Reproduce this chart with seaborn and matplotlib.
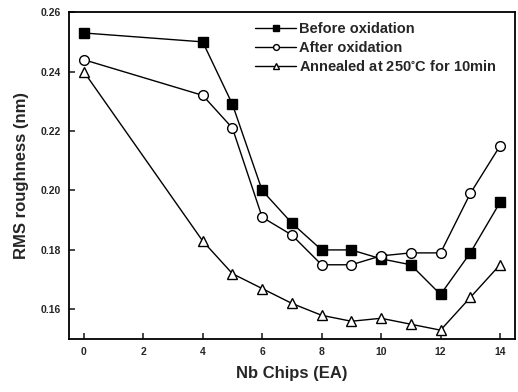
import matplotlib
matplotlib.use("Agg")
import matplotlib.pyplot as plt
import seaborn as sns
import pandas as pd

nb_chips = [0, 4, 5, 6, 7, 8, 9, 10, 11, 12, 13, 14]
before_ox = [0.253, 0.250, 0.229, 0.200, 0.189, 0.180, 0.180, 0.177, 0.175, 0.165, 0.179, 0.196]
after_ox = [0.244, 0.232, 0.221, 0.191, 0.185, 0.175, 0.175, 0.178, 0.179, 0.179, 0.199, 0.215]
annealed = [0.240, 0.183, 0.172, 0.167, 0.162, 0.158, 0.156, 0.157, 0.155, 0.153, 0.164, 0.175]
labels = ["Before oxidation", "After oxidation", "Annealed at 250$^{\\circ}$C for 10min"]
xticks = [0, 2, 4, 6, 8, 10, 12, 14]
yticks = [0.16, 0.18, 0.20, 0.22, 0.24, 0.26]

sns.set_style("ticks")
plt.rcParams['font.family'] = ['Liberation Sans', 'DejaVu Sans']
plt.rcParams['font.weight'] = 'bold'
plt.rcParams['mathtext.default'] = 'regular'

df = pd.DataFrame({
    "x": nb_chips * 3,
    "y": before_ox + after_ox + annealed,
    "series": [labels[0]] * len(nb_chips) + [labels[1]] * len(nb_chips) + [labels[2]] * len(nb_chips),
})

fig = plt.figure(figsize=(5.18, 3.92), dpi=100)
ax = fig.add_axes([0.133, 0.135, 0.861, 0.834])

styles = [
    dict(marker="s", mfc="black"),
    dict(marker="o", mfc="white"),
    dict(marker="^", mfc="white"),
]
for lab, st in zip(labels, styles):
    sub = df[df["series"] == lab]
    sns.lineplot(data=sub, x="x", y="y", ax=ax, color="black", lw=1.0,
                 marker=st["marker"], markersize=7, markerfacecolor=st["mfc"],
                 markeredgecolor="black", markeredgewidth=1.0, label=lab)

ax.set_xlim(-0.5, 14.5)
ax.set_ylim(0.15, 0.26)
ax.set_xticks(xticks)
ax.set_yticks(yticks)
ax.set_xticklabels([str(t) for t in xticks], fontsize=7.5, fontweight='bold')
ax.set_yticklabels([f"{t:.2f}" for t in yticks], fontsize=7.5, fontweight='bold')
ax.tick_params(direction="in", length=4, width=1.2, pad=6)
for s in ax.spines.values():
    s.set_linewidth(1.3)
    s.set_color("black")

ax.set_xlabel("Nb Chips (EA)", fontsize=12, fontweight='bold', labelpad=6)
ax.set_ylabel("RMS roughness (nm)", fontsize=12, fontweight='bold', labelpad=8)

leg = ax.legend(loc="upper left", bbox_to_anchor=(0.395, 1.0), frameon=False,
                fontsize=10.5, handlelength=2.8, handletextpad=0.2, labelspacing=0.3,
                borderaxespad=0.3, markerscale=0.6)
for t in leg.get_texts():
    t.set_fontweight('bold')

fig.savefig("out.png", dpi=100)
